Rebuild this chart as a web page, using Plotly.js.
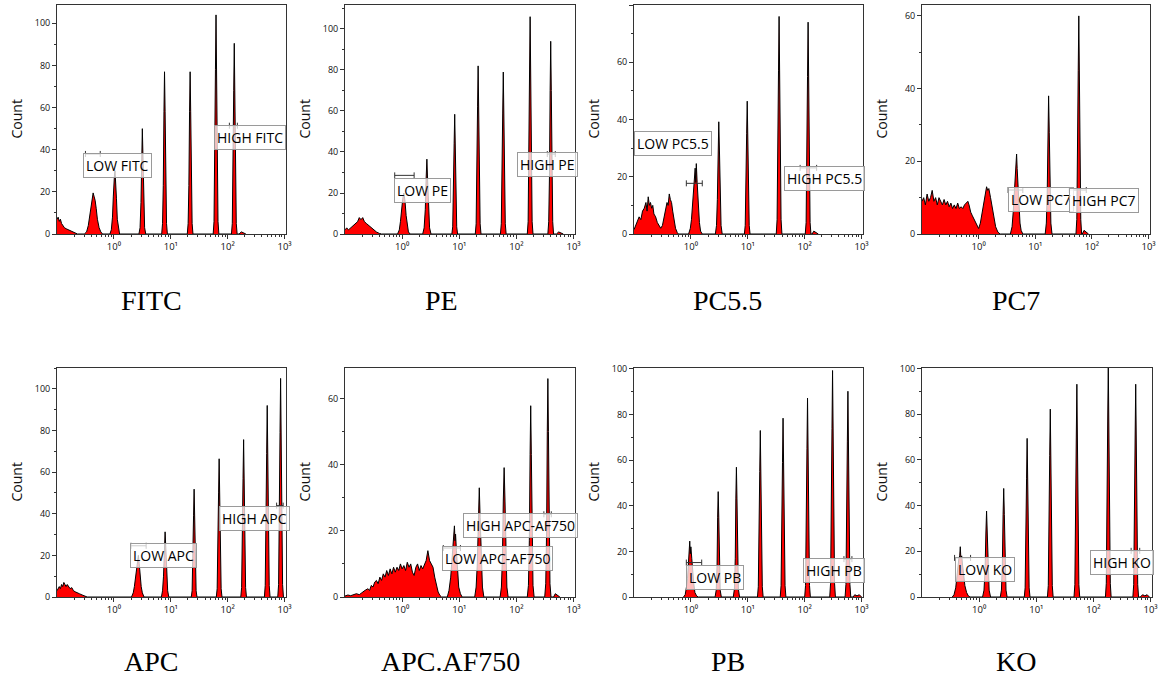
<!DOCTYPE html>
<html>
<head>
<meta charset="utf-8">
<script src="https://cdn.plot.ly/plotly-3.0.1.min.js"></script>
<style>html,body{margin:0;padding:0;background:#fff;}#chart{width:1164px;height:677px;}</style>
</head>
<body>
<div id="chart"></div>
<script>
// ---------- DATA (x = log10 fluorescence, y = count) ----------
const panelNames = ['FITC', 'PE', 'PC5.5', 'PC7', 'APC', 'APC.AF750', 'PB', 'KO'];
const lowLabels  = ['LOW FITC', 'LOW PE', 'LOW PC5.5', 'LOW PC7', 'LOW APC', 'LOW APC-AF750', 'LOW PB', 'LOW KO'];
const highLabels = ['HIGH FITC', 'HIGH PE', 'HIGH PC5.5', 'HIGH PC7', 'HIGH APC', 'HIGH APC-AF750', 'HIGH PB', 'HIGH KO'];
const xTickVals = [0, 1, 2, 3];
const xTickText = ['10\u2070', '10\u00b9', '10\u00b2', '10\u00b3'];

const fitcX = [-1.0,-0.98,-0.96,-0.94,-0.92,-0.9,-0.87,-0.84,-0.8,-0.76,-0.72,-0.68,-0.64,
  -0.52,-0.48,-0.45,-0.42,-0.40,-0.38,-0.365,-0.35,-0.33,-0.31,-0.29,-0.26,-0.23,-0.2,
  -0.07,-0.045,-0.025,-0.01,0.0,0.01,0.02,0.03,0.045,0.06,0.08,0.1,
  0.44,0.46,0.476,0.49,0.5,0.51,0.524,0.54,0.56,
  0.84,0.855,0.868,0.88,0.89,0.90,0.912,0.925,0.94,
  1.29,1.305,1.318,1.33,1.34,1.35,1.362,1.375,1.39,
  1.745,1.76,1.773,1.785,1.795,1.805,1.817,1.83,1.845,
  2.066,2.081,2.094,2.106,2.116,2.126,2.138,2.151,2.166,
  2.2,2.24,2.28,2.32];
const fitcY = [7,8,6,7,5,4,3,2.5,2,1.5,1,0.5,0,
  0,1,4,9,14,17,19.5,18,16,12,7,3,1,0,
  0,2,8,18,26,28,30,26,17,7,2,0,
  0,3,15,38,50,38,15,3,0,
  0,5,23,58,77,58,23,5,0,
  0,5,23,58,77,58,23,5,0,
  0,6,31,78,104,78,31,6,0,
  0,5,27,68,90.5,68,27,5,0,
  0,1,0.5,0];

const peX = [-1.0,-0.97,-0.94,-0.9,-0.86,-0.82,-0.78,-0.75,-0.72,-0.69,-0.66,-0.62,-0.58,-0.54,-0.5,-0.45,-0.4,-0.36,
  -0.08,-0.05,-0.03,-0.01,0.01,0.03,0.05,0.07,0.09,0.11,0.14,
  0.36,0.385,0.405,0.42,0.433,0.445,0.46,0.48,0.505,
  0.87,0.885,0.898,0.91,0.92,0.93,0.942,0.955,0.97,
  1.28,1.295,1.308,1.32,1.33,1.34,1.352,1.365,1.38,
  1.72,1.735,1.748,1.76,1.77,1.78,1.792,1.805,1.82,
  2.19,2.205,2.218,2.23,2.24,2.25,2.262,2.275,2.29,
  2.55,2.565,2.578,2.59,2.60,2.61,2.622,2.635,2.65,
  2.7,2.74,2.78,2.82];
const peY = [2,3,2,3,4,5,6,8,7,8,6,5,4,3,2,1,0.3,0,
  0,2,6,12,17,20,16,9,4,1,0,
  0,3,12,27,36.5,27,12,3,0,
  0,3.5,17.5,44,58.4,44,17.5,3.5,0,
  0,5,25,62,82,62,25,5,0,
  0,5,24,59,79,59,24,5,0,
  0,6,32,80,106,80,32,6,0,
  0,6,28,70,94,70,28,6,0,
  0,1,0.5,0];

const pc55X = [-1.0,-0.97,-0.94,-0.91,-0.88,-0.85,-0.82,-0.79,-0.77,-0.75,-0.73,-0.71,-0.69,-0.67,-0.65,-0.62,-0.59,-0.56,-0.53,-0.5,-0.47,-0.44,-0.42,-0.40,-0.38,-0.36,-0.34,-0.32,-0.3,-0.27,-0.24,-0.22,
  -0.04,-0.01,0.01,0.03,0.05,0.065,0.075,0.085,0.095,0.11,0.13,0.15,0.17,0.2,
  0.43,0.45,0.465,0.478,0.49,0.502,0.515,0.53,0.55,
  0.94,0.955,0.968,0.98,0.99,1.0,1.012,1.025,1.04,
  1.50,1.515,1.528,1.54,1.55,1.56,1.572,1.585,1.60,
  2.01,2.025,2.038,2.05,2.06,2.07,2.082,2.095,2.11,
  2.13,2.16,2.2,2.24];
const pc55Y = [1.5,3,4,6,5,8,9,11,8,13,10,11,9,10,7,6,4,3,2,3,6,9,11,10,14,12,11,8,5,2,0.5,0,
  0,2,5,10,16,20,23,18,24.6,18,10,4,1,0,
  0,3,12,29,39.2,29,12,3,0,
  0,3,14,35,46.4,35,14,3,0,
  0,5,23,57,76,57,23,5,0,
  0,4,22,55,74,55,22,4,0,
  0,1,0.5,0];

const pc7X = [-1.0,-0.97,-0.94,-0.91,-0.88,-0.85,-0.82,-0.79,-0.76,-0.73,-0.7,-0.67,-0.64,-0.61,-0.58,-0.55,-0.52,-0.49,-0.46,-0.43,-0.4,-0.37,-0.34,-0.31,-0.28,-0.25,-0.22,-0.19,-0.17,-0.14,-0.11,-0.08,-0.05,-0.02,0.0,0.03,0.06,0.09,0.12,0.14,0.16,0.18,0.21,0.24,0.27,0.3,0.34,0.38,
  0.56,0.59,0.61,0.63,0.645,0.66,0.67,0.68,0.695,0.71,0.73,0.75,0.78,
  1.175,1.195,1.21,1.223,1.235,1.247,1.26,1.275,1.295,
  1.718,1.733,1.746,1.758,1.768,1.778,1.79,1.803,1.818,
  1.83,1.86,1.9,1.94];
const pc7Y = [9,10,8,11,9,10,12,9,10,8,10,9,8,9.5,8,9,7.5,8.5,7,8,7,8.5,7,7.5,7,8,8.5,9,8,6,5,4,3,2,1.5,3,6,9,11,13,12,12.5,10,7,4,2,0.5,0,
  0,2,6,12,17,19,22,18,14,8,3,1,0,
  0,3,11,28,38,28,11,3,0,
  0,4,18,45,60,45,18,4,0,
  0,1,0.5,0];

const apcX = [-1.0,-0.98,-0.96,-0.94,-0.92,-0.9,-0.88,-0.86,-0.84,-0.82,-0.8,-0.77,-0.74,-0.71,-0.68,-0.65,-0.6,-0.56,-0.52,-0.47,
  0.31,0.34,0.36,0.38,0.40,0.415,0.43,0.445,0.46,0.48,0.5,0.53,
  0.835,0.855,0.872,0.887,0.9,0.912,0.927,0.945,0.965,
  1.36,1.375,1.388,1.4,1.41,1.42,1.432,1.445,1.46,
  1.80,1.815,1.828,1.84,1.85,1.86,1.872,1.885,1.90,
  2.23,2.245,2.258,2.27,2.28,2.29,2.302,2.315,2.33,
  2.645,2.66,2.673,2.685,2.695,2.705,2.717,2.73,2.745,
  2.88,2.895,2.908,2.92,2.93,2.94,2.952,2.965,2.98];
const apcY = [3,4,5,4,6,5,7,6,5,6,5,4,4.5,3,2.5,2,1.5,1,0.5,0,
  0,2,5,10,15,19,20,16,10,5,2,0,
  0,3,10,24,31.3,24,10,3,0,
  0,3,16,39,51.8,39,16,3,0,
  0,4,20,50,66.4,50,20,4,0,
  0,4.5,23,57,75.6,57,23,4.5,0,
  0,5.5,28,69,92,69,28,5.5,0,
  0,6,32,79,105,79,32,6,0];

const apcAf750X = [-1.0,-0.95,-0.9,-0.85,-0.8,-0.75,-0.7,-0.65,-0.6,-0.57,-0.54,-0.51,-0.48,-0.45,-0.42,-0.39,-0.36,-0.33,-0.3,-0.27,-0.24,-0.21,-0.18,-0.15,-0.12,-0.09,-0.06,-0.03,0.0,0.03,0.06,0.09,0.12,0.15,0.18,0.21,0.24,0.27,0.3,0.33,0.36,0.39,0.42,0.45,0.48,0.51,0.54,0.57,0.6,0.63,0.66,0.69,
  0.79,0.82,0.85,0.87,0.89,0.905,0.915,0.925,0.935,0.95,0.97,0.99,1.02,1.05,
  1.27,1.295,1.315,1.333,1.35,1.365,1.385,1.405,1.43,
  1.715,1.737,1.755,1.77,1.785,1.8,1.815,1.833,1.855,
  2.19,2.21,2.226,2.239,2.25,2.261,2.274,2.29,2.31,
  2.495,2.513,2.528,2.54,2.55,2.56,2.572,2.587,2.605,
  2.65,2.68,2.72,2.76];
const apcAf750Y = [0.3,0.6,0.4,0.8,1,0.7,1.5,2,2.5,2,3.5,3,4.5,5,4,6,5,7,6,8,6.5,8.5,7,9,7.5,9,8,10,8.5,9.5,8,10.5,9,10,7.5,6.5,9,10,8,9.5,8.5,10,11,14,11,10,9,6,3.5,1.5,0.5,0,
  0,2,6,10,15,18,21.5,17,19,14,8,3,1,0,
  0,3,10,24,33,24,10,3,0,
  0,3,12,29,39.1,29,12,3,0,
  0,3.5,17,43,57.8,43,17,3.5,0,
  0,4,20,50,66,50,20,4,0,
  0,1,0.5,0];

const pbX = [-0.13,-0.1,-0.08,-0.06,-0.045,-0.03,-0.02,-0.01,0.0,0.015,0.03,0.05,0.07,0.1,0.13,
  0.425,0.445,0.46,0.47,0.48,0.49,0.5,0.515,0.535,
  0.745,0.765,0.78,0.79,0.8,0.81,0.82,0.835,0.855,
  1.17,1.185,1.198,1.21,1.22,1.23,1.242,1.255,1.27,
  1.57,1.585,1.598,1.61,1.62,1.63,1.642,1.655,1.67,
  2.0,2.015,2.028,2.04,2.05,2.06,2.072,2.085,2.1,
  2.44,2.455,2.468,2.48,2.49,2.5,2.512,2.525,2.54,
  2.71,2.725,2.738,2.75,2.76,2.77,2.782,2.795,2.81,
  2.85,2.88,2.92,2.96,3.0];
const pbY = [0,1,4,8,14,20,24.5,19,22,17,11,6,2,0.5,0,
  0,3,14,35,46.2,35,14,3,0,
  0,3.5,17,43,56.9,43,17,3.5,0,
  0,4.5,22,55,73,55,22,4.5,0,
  0,5,23.5,59,78.4,59,23.5,5,0,
  0,5,26,65,87.2,65,26,5,0,
  0,6,30,74,99.3,74,30,6,0,
  0,5.5,27,68,90.2,68,27,5.5,0,
  0,1,0.5,1,0];

const koX = [-0.47,-0.44,-0.41,-0.39,-0.37,-0.355,-0.34,-0.33,-0.32,-0.305,-0.29,-0.27,-0.25,-0.22,-0.19,-0.16,
  0.06,0.085,0.104,0.118,0.13,0.142,0.156,0.175,0.2,
  0.37,0.39,0.406,0.419,0.43,0.441,0.454,0.47,0.49,
  0.79,0.805,0.818,0.83,0.84,0.85,0.862,0.875,0.89,
  1.195,1.21,1.223,1.235,1.245,1.255,1.267,1.28,1.295,
  1.66,1.675,1.688,1.7,1.71,1.72,1.732,1.745,1.76,
  2.21,2.225,2.238,2.25,2.26,2.27,2.282,2.295,2.31,
  2.69,2.705,2.718,2.73,2.74,2.75,2.762,2.775,2.79,
  2.82,2.86,2.9,2.94,2.98];
const koY = [0,1,4,9,14,17,18,22,17,18,14,9,5,2,0.5,0,
  0,3,12,28,37.6,28,12,3,0,
  0,3,14,36,47.5,36,14,3,0,
  0,4,21,52,69.4,52,21,4,0,
  0,5,25,62,82.2,62,25,5,0,
  0,5.5,28,70,93.1,70,28,5.5,0,
  0,6,31,77,102,77,31,6,0,
  0,5.5,28,70,93.1,70,28,5.5,0,
  0,1,0.5,1,0];

// gates: [log start, log end, count level]
const lowGates  = [[-0.50,-0.24,38], [-0.13,0.21,28.6], [-0.08,0.20,17.7], [0.52,0.78,12.1], [0.30,0.567,24.6], [0.72,1.02,14.8], [-0.08,0.19,15.1], [-0.43,-0.15,17.1]];
const highGates = [[2.03,2.17,51.4], [2.54,2.68,39], [1.92,2.21,23.1], [1.60,1.90,12.1], [2.86,2.975,43.9], [2.48,2.61,25], [2.69,2.83,16.6], [2.66,2.81,20.2]];

const seriesX = [fitcX, peX, pc55X, pc7X, apcX, apcAf750X, pbX, koX];
const seriesY = [fitcY, peY, pc55Y, pc7Y, apcY, apcAf750Y, pbY, koY];

// ---------- LAYOUT ----------
const W = 1164, H = 677;
const boxes = [[57,286,5,234],[345,575,5,234],[634,863,5,234],[922,1150,5,234],
               [57,286,368,597],[345,575,368,597],[634,863,368,597],[922,1152,368,597]];
const yMax = [108.7, 111.7, 80, 63, 110, 69.2, 100.4, 100.2];
const lowLabelPos  = [[-0.54,32.7],[-0.144,21],[-0.995,31.5],[0.51,9.4],[0.286,19.9],[0.705,11.6],[-0.08,8.6],[-0.43,12.2]];
const highLabelPos = [[1.76,45.8],[2.005,33.8],[1.63,19.3],[1.59,9.3],[1.847,37.6],[1.062,21.6],[1.97,11.8],[1.94,15.3]];
const titlePos = [[151,300],[441,300],[727,300],[1016,300],[151,661],[450,661],[728,661],[1016,661]];

const minorX = [];
[-1,0,1,2].forEach(d => [2,3,4,5,6,7,8,9].forEach(f => minorX.push(d + Math.log10(f))));

const SANS = 'Open Sans, Noto Sans, DejaVu Sans, sans-serif';
const traces = [];
const layout = {
  width: W, height: H, margin: {l:0, r:0, t:0, b:0},
  paper_bgcolor: '#fff', plot_bgcolor: '#fff', showlegend: false,
  font: {family: SANS, color: '#111'},
  annotations: [], shapes: []
};

for (let i = 0; i < 8; i++) {
  const s = i === 0 ? '' : String(i + 1);
  const [l, r, t, b] = boxes[i];
  traces.push({
    type: 'scatter', mode: 'lines', x: seriesX[i], y: seriesY[i],
    xaxis: 'x' + s, yaxis: 'y' + s, fill: 'tozeroy', fillcolor: '#ff0000',
    line: {color: '#000', width: 1}, hoverinfo: 'skip'
  });
  layout['xaxis' + s] = {
    domain: [l / W, r / W], anchor: 'y' + s, range: [-1, 3.025],
    tickmode: 'array', tickvals: xTickVals, ticktext: xTickText,
    ticks: 'outside', ticklen: 4, tickcolor: '#333', tickwidth: 1,
    minor: {tickmode: 'array', tickvals: minorX, ticks: 'outside', ticklen: 2, tickcolor: '#333'},
    showline: true, mirror: true, linecolor: '#333', linewidth: 1,
    showgrid: false, zeroline: false, fixedrange: true,
    tickfont: {family: SANS, size: 9.5, color: '#111'}
  };
  layout['yaxis' + s] = {
    domain: [1 - b / H, 1 - t / H], anchor: 'x' + s, range: [0, yMax[i]],
    tickmode: 'linear', tick0: 0, dtick: 20,
    ticks: 'outside', ticklen: 4, tickcolor: '#333', tickwidth: 1,
    minor: {dtick: 10, ticks: 'outside', ticklen: 2, tickcolor: '#333'},
    showline: true, mirror: true, linecolor: '#333', linewidth: 1,
    showgrid: false, zeroline: false, fixedrange: true,
    tickfont: {family: SANS, size: 9, color: '#111'}
  };
  // Count label
  layout.annotations.push({
    xref: 'paper', yref: 'paper', x: (l - 41) / W, y: 1 - ((t + b) / 2) / H,
    text: 'Count', textangle: -90, showarrow: false,
    font: {family: SANS, size: 14, color: '#111'}, xanchor: 'center', yanchor: 'middle'
  });
  // Panel title
  layout.annotations.push({
    xref: 'paper', yref: 'paper', x: titlePos[i][0] / W, y: 1 - titlePos[i][1] / H,
    text: panelNames[i], showarrow: false,
    font: {family: 'Liberation Serif, serif', size: 28, color: '#000'},
    xanchor: 'center', yanchor: 'middle'
  });
  // gate labels
  [[lowLabels[i], lowLabelPos[i]], [highLabels[i], highLabelPos[i]]].forEach(([txt, pos]) => {
    layout.annotations.push({
      xref: 'x' + s, yref: 'y' + s, x: pos[0], y: pos[1], text: txt, showarrow: false,
      xanchor: 'left', yanchor: 'middle',
      font: {family: SANS, size: 14, color: '#000'},
      bgcolor: 'rgba(255,255,255,0.75)', bordercolor: '#9a9a9a', borderwidth: 1, borderpad: 2
    });
  });
  // gate brackets
  [lowGates[i], highGates[i]].forEach(g => {
    const ln = {color: '#333', width: 1};
    layout.shapes.push({type: 'line', xref: 'x' + s, yref: 'y' + s, x0: g[0], x1: g[1], y0: g[2], y1: g[2], line: ln, layer: 'above'});
    [g[0], g[1]].forEach(xx => layout.shapes.push({
      type: 'line', xref: 'x' + s, yref: 'y' + s, x0: xx, x1: xx,
      ysizemode: 'pixel', yanchor: g[2], y0: -3, y1: 3, line: ln, layer: 'above'
    }));
  });
}

Plotly.newPlot('chart', traces, layout, {staticPlot: true, displayModeBar: false});
</script>
</body>
</html>
